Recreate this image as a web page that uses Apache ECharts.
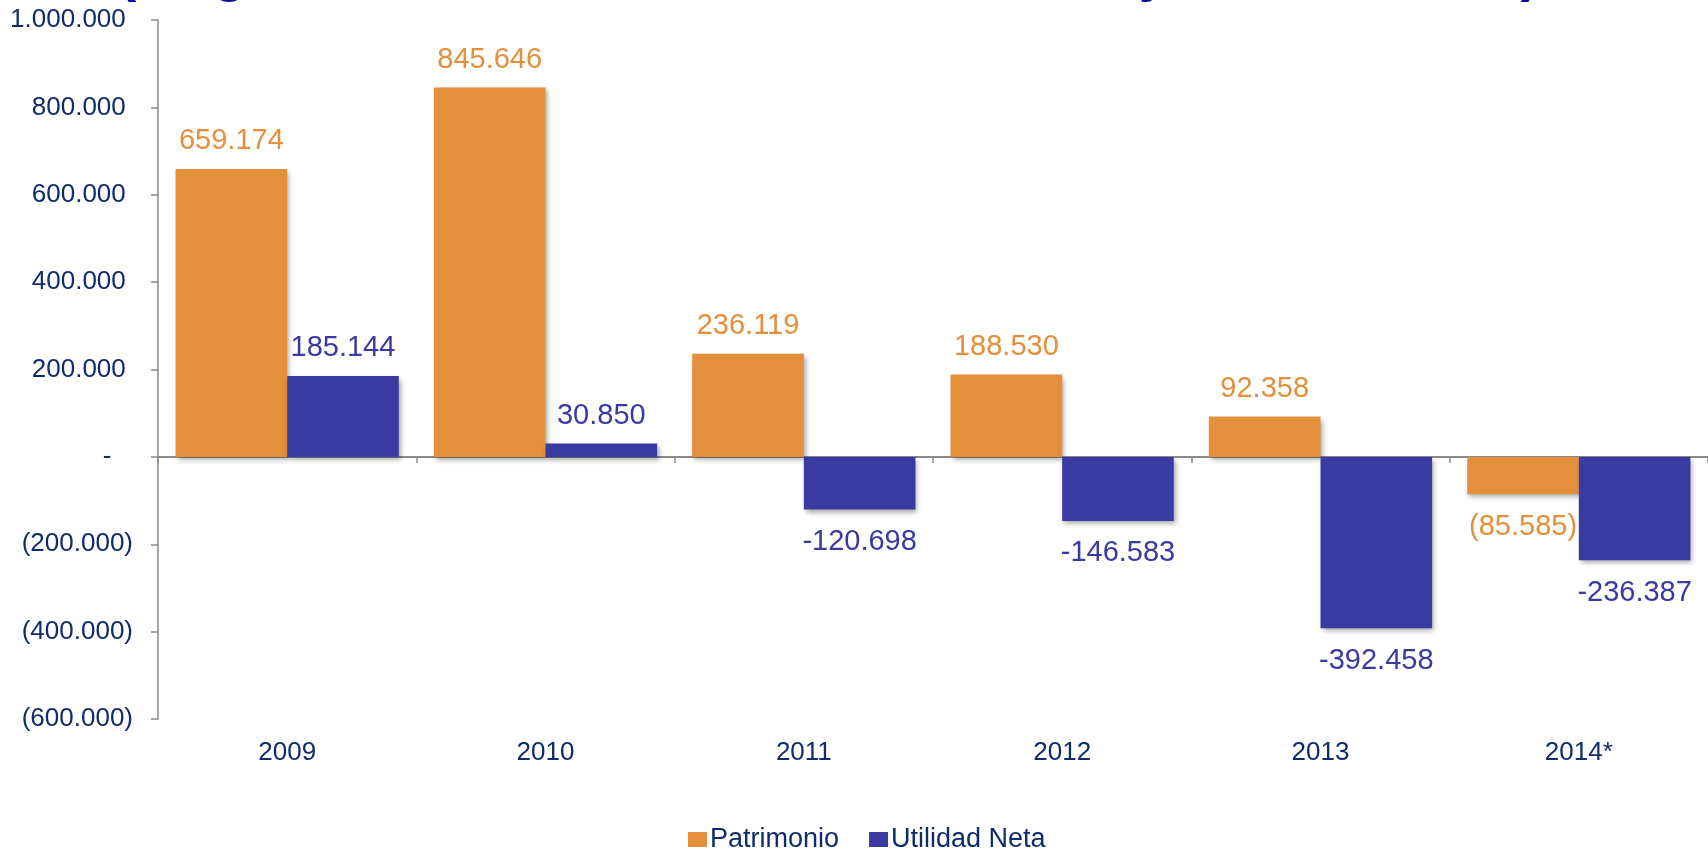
<!DOCTYPE html>
<html>
<head>
<meta charset="utf-8">
<script src="https://cdn.jsdelivr.net/npm/echarts@6/dist/echarts.min.js"></script>
<style>
html,body{margin:0;padding:0;background:#fff;}
#chart{width:1708px;height:854px;}
</style>
</head>
<body>
<div id="chart"></div>
<script>
const categories = ['2009', '2010', '2011', '2012', '2013', '2014*'];
const patrimonio = [659174, 845646, 236119, 188530, 92358, -85585];
const utilidadNeta = [185144, 30850, -120698, -146583, -392458, -236387];
const seriesNames = ['Patrimonio', 'Utilidad Neta'];
const titleText = '(Magnitudes en millones $, Patrimonio y Utilidad Neta)';

const ORANGE = '#E38F3B';
const BLUE = '#3A3AA3';
const NAVY = '#0F2C6A';
const FONT = '"Liberation Sans", Arial, sans-serif';

function thousands(v) {
  return Math.abs(v).toString().replace(/\B(?=(\d{3})+(?!\d))/g, '.');
}

function toItems(arr) {
  return arr.map(v => ({
    value: v,
    label: { position: v < 0 ? 'bottom' : 'top', distance: v < 0 ? 18 : 13 }
  }));
}

const chart = echarts.init(document.getElementById('chart'), null, { renderer: 'canvas' });

const shadow = { shadowColor: 'rgba(0,0,0,0.35)', shadowBlur: 5, shadowOffsetX: 2, shadowOffsetY: 3 };

chart.setOption({
  animation: false,
  backgroundColor: '#ffffff',
  textStyle: { fontFamily: FONT },
  graphic: [{
    type: 'text',
    left: 118,
    top: -53,
    style: {
      text: titleText,
      font: 'bold 55px ' + FONT,
      fill: '#0B0B9E'
    }
  }],
  legend: {
    data: seriesNames,
    left: 688,
    top: 826,
    padding: 0,
    itemWidth: 19,
    itemHeight: 15,
    itemGap: 30,
    icon: 'rect',
    textStyle: { color: NAVY, fontSize: 27, fontFamily: FONT, padding: [0, 0, 0, -2] }
  },
  grid: { left: 158, right: -8, top: 20, bottom: 135, containLabel: false },
  xAxis: [{
    type: 'category',
    data: categories,
    position: 'bottom',
    axisLine: { show: false, onZero: false },
    axisTick: { show: false },
    axisLabel: { color: NAVY, fontSize: 26, fontFamily: FONT, margin: 21 },
    splitLine: { show: false }
  }, {
    type: 'category',
    data: categories,
    position: 'bottom',
    axisLine: { show: true, onZero: true, lineStyle: { color: '#8A8A8A', width: 2 } },
    axisTick: { show: true, length: 6, lineStyle: { color: '#8A8A8A', width: 1.5 } },
    axisLabel: { show: false },
    splitLine: { show: false }
  }],
  yAxis: {
    type: 'value',
    min: -600000,
    max: 1000000,
    interval: 200000,
    axisLine: { show: true, lineStyle: { color: '#8A8A8A', width: 1.5 } },
    axisTick: { show: true, length: 7, lineStyle: { color: '#8A8A8A', width: 1.5 } },
    splitLine: { show: false },
    axisLabel: {
      color: NAVY,
      fontSize: 26,
      fontFamily: FONT,
      margin: 25,
      formatter: function (v) {
        if (v === 0) return '-   ';
        if (v < 0) return '(' + thousands(v) + ')';
        return thousands(v) + ' ';
      }
    }
  },
  series: [{
    name: seriesNames[0],
    type: 'bar',
    xAxisIndex: 0,
    data: toItems(patrimonio),
    barGap: '0%',
    barCategoryGap: '13.6%',
    itemStyle: Object.assign({ color: ORANGE }, shadow),
    label: {
      show: true,
      color: ORANGE,
      fontSize: 29,
      fontFamily: FONT,
      formatter: p => p.value < 0 ? '(' + thousands(p.value) + ')' : thousands(p.value)
    }
  }, {
    name: seriesNames[1],
    type: 'bar',
    xAxisIndex: 0,
    data: toItems(utilidadNeta),
    barGap: '0%',
    barCategoryGap: '13.6%',
    itemStyle: Object.assign({ color: BLUE }, shadow),
    label: {
      show: true,
      color: BLUE,
      fontSize: 29,
      fontFamily: FONT,
      formatter: p => p.value < 0 ? '-' + thousands(p.value) : thousands(p.value)
    }
  }]
});
</script>
</body>
</html>
